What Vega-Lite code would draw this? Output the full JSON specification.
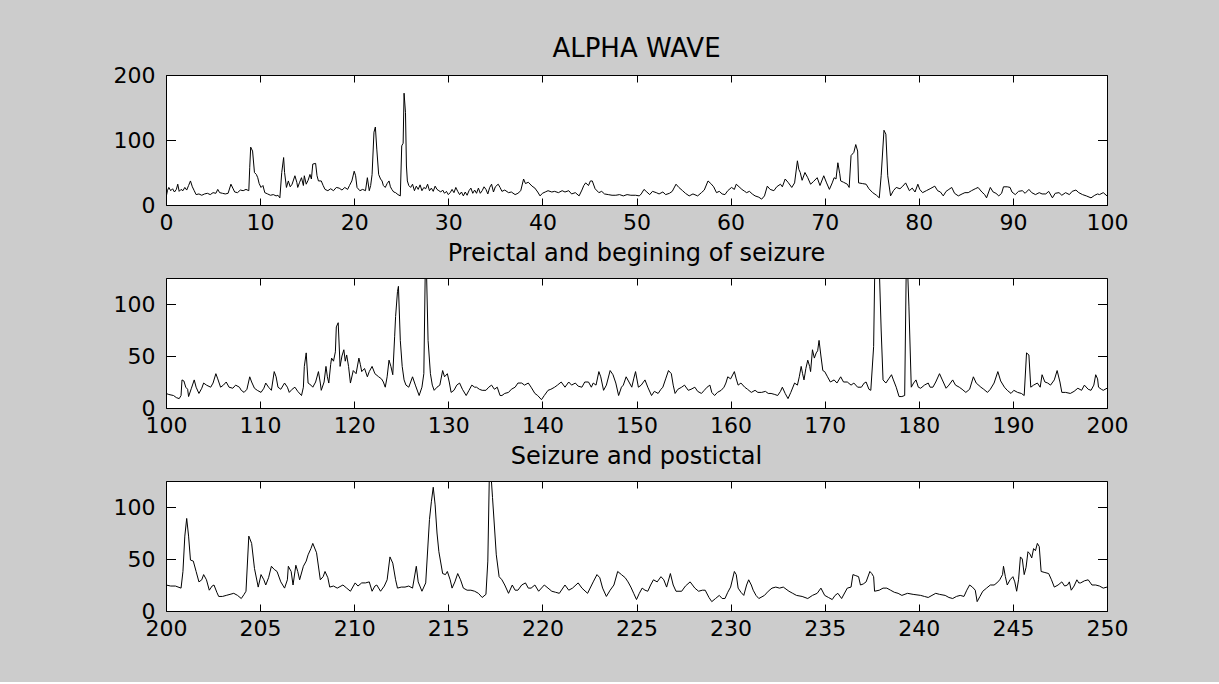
{
"$schema": "https://vega.github.io/schema/vega-lite/v6.json",
"autosize": {"type": "pad"},
"padding": {"left": 112, "top": 35, "right": 94, "bottom": 41},
"background": "#cccccc",
"spacing": 73,
"bounds": "flush",
"config": {
 "view": {"fill": "white", "stroke": "black", "strokeWidth": 1},
 "axis": {"domain": false, "grid": false, "labelFont": "DejaVu Sans", "labelFontSize": 22, "labelColor": "black", "tickColor": "black", "tickWidth": 1, "title": null, "labelFlush": false, "labelOverlap": false},
 "axisX": {"tickSize": -7, "labelPadding": 14.6},
 "axisY": {"tickSize": -9.5, "labelPadding": 20.5},
 "title": {"font": "DejaVu Sans", "fontSize": 24, "fontWeight": "normal", "color": "black", "baseline": "alphabetic", "offset": 12, "anchor": "middle"}
},
"datasets": {
"a": [
{"t":0.0,"v":11},{"t":0.15,"v":22},{"t":0.3,"v":27},{"t":0.5,"v":22},{"t":0.7,"v":25},{"t":0.9,"v":20},{"t":1.1,"v":24},{"t":1.25,"v":32},{"t":1.4,"v":21},{"t":1.6,"v":24},{"t":1.8,"v":22},{"t":2.0,"v":27},{"t":2.2,"v":23},{"t":2.4,"v":30},{"t":2.6,"v":37},{"t":2.8,"v":28},{"t":3.0,"v":22},{"t":3.2,"v":16},{"t":3.5,"v":17},{"t":3.8,"v":15},{"t":4.1,"v":17},{"t":4.4,"v":18},{"t":4.7,"v":16},{"t":5.0,"v":19},{"t":5.3,"v":18},{"t":5.5,"v":24},{"t":5.7,"v":19},{"t":6.0,"v":18},{"t":6.3,"v":17},{"t":6.6,"v":18},{"t":6.9,"v":32},{"t":7.1,"v":26},{"t":7.3,"v":20},{"t":7.6,"v":19},{"t":7.9,"v":23},{"t":8.2,"v":22},{"t":8.5,"v":24},{"t":8.8,"v":22},{"t":8.9,"v":58},{"t":9.0,"v":89},{"t":9.2,"v":83},{"t":9.4,"v":50},{"t":9.6,"v":47},{"t":9.75,"v":42},{"t":9.9,"v":33},{"t":10.1,"v":27},{"t":10.3,"v":30},{"t":10.5,"v":19},{"t":10.8,"v":17},{"t":11.1,"v":15},{"t":11.4,"v":16},{"t":11.7,"v":14},{"t":11.9,"v":15},{"t":12.1,"v":11},{"t":12.3,"v":50},{"t":12.5,"v":73},{"t":12.6,"v":50},{"t":12.8,"v":27},{"t":13.0,"v":37},{"t":13.2,"v":28},{"t":13.4,"v":32},{"t":13.7,"v":45},{"t":13.9,"v":35},{"t":14.0,"v":27},{"t":14.2,"v":35},{"t":14.4,"v":42},{"t":14.6,"v":30},{"t":14.7,"v":45},{"t":14.9,"v":32},{"t":15.1,"v":38},{"t":15.3,"v":47},{"t":15.45,"v":40},{"t":15.6,"v":63},{"t":15.9,"v":64},{"t":16.05,"v":45},{"t":16.2,"v":37},{"t":16.5,"v":37},{"t":16.7,"v":30},{"t":16.9,"v":24},{"t":17.2,"v":22},{"t":17.5,"v":25},{"t":17.8,"v":22},{"t":18.1,"v":27},{"t":18.4,"v":26},{"t":18.7,"v":23},{"t":19.0,"v":27},{"t":19.3,"v":24},{"t":19.5,"v":30},{"t":19.75,"v":37},{"t":20.0,"v":52},{"t":20.15,"v":45},{"t":20.3,"v":27},{"t":20.6,"v":22},{"t":20.9,"v":24},{"t":21.2,"v":22},{"t":21.4,"v":42},{"t":21.6,"v":22},{"t":21.75,"v":30},{"t":21.9,"v":47},{"t":22.1,"v":112},{"t":22.25,"v":120},{"t":22.4,"v":86},{"t":22.6,"v":47},{"t":22.8,"v":40},{"t":22.96,"v":37},{"t":23.1,"v":30},{"t":23.3,"v":27},{"t":23.5,"v":33},{"t":23.7,"v":37},{"t":23.85,"v":28},{"t":24.0,"v":24},{"t":24.2,"v":20},{"t":24.4,"v":19},{"t":24.65,"v":16},{"t":24.9,"v":14},{"t":25.05,"v":91},{"t":25.2,"v":95},{"t":25.3,"v":172},{"t":25.45,"v":142},{"t":25.55,"v":60},{"t":25.65,"v":37},{"t":25.8,"v":30},{"t":26.0,"v":27},{"t":26.2,"v":32},{"t":26.4,"v":22},{"t":26.6,"v":29},{"t":26.8,"v":24},{"t":27.0,"v":31},{"t":27.2,"v":22},{"t":27.4,"v":27},{"t":27.6,"v":25},{"t":27.8,"v":32},{"t":28.0,"v":22},{"t":28.2,"v":26},{"t":28.4,"v":21},{"t":28.6,"v":29},{"t":28.8,"v":24},{"t":29.0,"v":22},{"t":29.2,"v":20},{"t":29.4,"v":23},{"t":29.6,"v":18},{"t":29.8,"v":21},{"t":30.0,"v":16},{"t":30.2,"v":19},{"t":30.4,"v":24},{"t":30.6,"v":19},{"t":30.8,"v":27},{"t":31.0,"v":21},{"t":31.2,"v":16},{"t":31.4,"v":20},{"t":31.6,"v":14},{"t":31.8,"v":20},{"t":32.0,"v":15},{"t":32.2,"v":22},{"t":32.4,"v":26},{"t":32.6,"v":18},{"t":32.8,"v":23},{"t":33.0,"v":18},{"t":33.2,"v":26},{"t":33.4,"v":18},{"t":33.6,"v":22},{"t":33.8,"v":28},{"t":34.0,"v":24},{"t":34.2,"v":17},{"t":34.4,"v":27},{"t":34.6,"v":32},{"t":34.8,"v":20},{"t":35.0,"v":28},{"t":35.3,"v":32},{"t":35.5,"v":27},{"t":35.7,"v":21},{"t":36.0,"v":23},{"t":36.4,"v":19},{"t":36.7,"v":20},{"t":37.1,"v":16},{"t":37.4,"v":18},{"t":37.7,"v":22},{"t":38.0,"v":40},{"t":38.2,"v":33},{"t":38.5,"v":35},{"t":38.9,"v":29},{"t":39.2,"v":26},{"t":39.5,"v":20},{"t":39.75,"v":14},{"t":40.0,"v":18},{"t":40.3,"v":20},{"t":40.6,"v":22},{"t":41.0,"v":20},{"t":41.3,"v":21},{"t":41.7,"v":19},{"t":42.1,"v":22},{"t":42.4,"v":20},{"t":42.8,"v":22},{"t":43.1,"v":17},{"t":43.5,"v":19},{"t":43.9,"v":14},{"t":44.2,"v":23},{"t":44.4,"v":30},{"t":44.6,"v":34},{"t":44.9,"v":30},{"t":45.1,"v":37},{"t":45.3,"v":37},{"t":45.6,"v":25},{"t":46.0,"v":19},{"t":46.3,"v":21},{"t":46.6,"v":17},{"t":47.0,"v":16},{"t":47.4,"v":15},{"t":47.8,"v":15},{"t":48.2,"v":16},{"t":48.6,"v":14},{"t":49.0,"v":16},{"t":49.4,"v":15},{"t":49.9,"v":15},{"t":50.3,"v":14},{"t":50.5,"v":17},{"t":50.8,"v":24},{"t":51.1,"v":20},{"t":51.4,"v":16},{"t":51.7,"v":21},{"t":52.1,"v":19},{"t":52.4,"v":17},{"t":52.8,"v":20},{"t":53.1,"v":16},{"t":53.5,"v":18},{"t":53.8,"v":21},{"t":54.2,"v":32},{"t":54.5,"v":27},{"t":54.9,"v":22},{"t":55.2,"v":18},{"t":55.6,"v":14},{"t":56.0,"v":17},{"t":56.5,"v":14},{"t":56.9,"v":19},{"t":57.2,"v":23},{"t":57.6,"v":37},{"t":57.9,"v":33},{"t":58.2,"v":28},{"t":58.5,"v":19},{"t":58.8,"v":21},{"t":59.1,"v":17},{"t":59.4,"v":16},{"t":59.7,"v":22},{"t":60.1,"v":27},{"t":60.4,"v":24},{"t":60.6,"v":32},{"t":60.9,"v":28},{"t":61.2,"v":24},{"t":61.5,"v":21},{"t":61.7,"v":19},{"t":62.0,"v":21},{"t":62.3,"v":17},{"t":62.6,"v":14},{"t":63.0,"v":12},{"t":63.3,"v":9},{"t":63.6,"v":14},{"t":63.9,"v":29},{"t":64.2,"v":24},{"t":64.6,"v":22},{"t":64.9,"v":28},{"t":65.3,"v":32},{"t":65.5,"v":28},{"t":65.8,"v":40},{"t":66.1,"v":35},{"t":66.5,"v":27},{"t":66.8,"v":34},{"t":67.1,"v":68},{"t":67.25,"v":55},{"t":67.4,"v":50},{"t":67.6,"v":38},{"t":67.9,"v":50},{"t":68.2,"v":42},{"t":68.5,"v":32},{"t":68.8,"v":36},{"t":69.2,"v":42},{"t":69.5,"v":30},{"t":69.9,"v":45},{"t":70.2,"v":34},{"t":70.5,"v":24},{"t":70.8,"v":34},{"t":71.0,"v":42},{"t":71.2,"v":40},{"t":71.4,"v":65},{"t":71.6,"v":48},{"t":71.7,"v":37},{"t":72.0,"v":35},{"t":72.4,"v":32},{"t":72.6,"v":27},{"t":72.8,"v":76},{"t":73.1,"v":81},{"t":73.3,"v":93},{"t":73.5,"v":83},{"t":73.6,"v":34},{"t":74.0,"v":33},{"t":74.4,"v":32},{"t":74.7,"v":25},{"t":75.1,"v":19},{"t":75.5,"v":15},{"t":75.8,"v":11},{"t":76.0,"v":45},{"t":76.3,"v":115},{"t":76.5,"v":109},{"t":76.7,"v":45},{"t":77.0,"v":14},{"t":77.3,"v":22},{"t":77.6,"v":27},{"t":78.0,"v":25},{"t":78.3,"v":29},{"t":78.6,"v":34},{"t":79.0,"v":22},{"t":79.3,"v":26},{"t":79.6,"v":20},{"t":79.9,"v":32},{"t":80.1,"v":24},{"t":80.4,"v":19},{"t":80.8,"v":22},{"t":81.2,"v":25},{"t":81.7,"v":29},{"t":82.0,"v":22},{"t":82.3,"v":20},{"t":82.6,"v":14},{"t":82.9,"v":21},{"t":83.2,"v":24},{"t":83.5,"v":27},{"t":83.8,"v":18},{"t":84.2,"v":14},{"t":84.6,"v":17},{"t":84.9,"v":19},{"t":85.25,"v":19},{"t":85.6,"v":22},{"t":86.0,"v":25},{"t":86.3,"v":27},{"t":86.7,"v":20},{"t":87.0,"v":16},{"t":87.2,"v":11},{"t":87.6,"v":27},{"t":87.9,"v":20},{"t":88.2,"v":18},{"t":88.5,"v":14},{"t":88.8,"v":18},{"t":89.0,"v":28},{"t":89.4,"v":28},{"t":89.7,"v":27},{"t":89.9,"v":20},{"t":90.25,"v":16},{"t":90.6,"v":21},{"t":91.0,"v":22},{"t":91.3,"v":18},{"t":91.7,"v":24},{"t":92.0,"v":19},{"t":92.4,"v":16},{"t":92.8,"v":19},{"t":93.1,"v":17},{"t":93.5,"v":17},{"t":93.8,"v":21},{"t":94.2,"v":11},{"t":94.5,"v":18},{"t":94.9,"v":19},{"t":95.2,"v":15},{"t":95.6,"v":19},{"t":96.0,"v":16},{"t":96.3,"v":21},{"t":96.7,"v":23},{"t":97.0,"v":19},{"t":97.4,"v":16},{"t":97.8,"v":14},{"t":98.3,"v":11},{"t":98.7,"v":15},{"t":99.0,"v":17},{"t":99.2,"v":16},{"t":99.6,"v":19},{"t":100.0,"v":14}
],
"b": [
{"t":100.0,"v":14},{"t":100.3,"v":13},{"t":100.8,"v":12},{"t":101.1,"v":10},{"t":101.4,"v":9},{"t":101.6,"v":12},{"t":101.7,"v":27},{"t":101.9,"v":26},{"t":102.1,"v":20},{"t":102.3,"v":18},{"t":102.4,"v":11},{"t":102.7,"v":19},{"t":103.0,"v":27},{"t":103.2,"v":20},{"t":103.5,"v":14},{"t":103.8,"v":19},{"t":104.0,"v":24},{"t":104.3,"v":22},{"t":104.75,"v":20},{"t":105.0,"v":24},{"t":105.3,"v":33},{"t":105.5,"v":28},{"t":105.8,"v":20},{"t":106.1,"v":22},{"t":106.4,"v":25},{"t":106.7,"v":20},{"t":107.1,"v":19},{"t":107.4,"v":22},{"t":107.8,"v":20},{"t":108.0,"v":17},{"t":108.3,"v":15},{"t":108.6,"v":18},{"t":108.9,"v":30},{"t":109.1,"v":25},{"t":109.4,"v":19},{"t":109.7,"v":17},{"t":110.1,"v":15},{"t":110.4,"v":19},{"t":110.6,"v":24},{"t":110.9,"v":20},{"t":111.2,"v":17},{"t":111.5,"v":35},{"t":111.7,"v":30},{"t":111.9,"v":20},{"t":112.2,"v":18},{"t":112.6,"v":24},{"t":112.9,"v":20},{"t":113.1,"v":15},{"t":113.4,"v":18},{"t":113.7,"v":20},{"t":114.0,"v":16},{"t":114.4,"v":12},{"t":114.6,"v":20},{"t":114.7,"v":40},{"t":114.9,"v":53},{"t":115.1,"v":24},{"t":115.4,"v":22},{"t":115.6,"v":20},{"t":115.9,"v":25},{"t":116.2,"v":35},{"t":116.4,"v":24},{"t":116.5,"v":17},{"t":116.8,"v":25},{"t":117.0,"v":40},{"t":117.15,"v":30},{"t":117.3,"v":24},{"t":117.5,"v":42},{"t":117.6,"v":48},{"t":117.8,"v":45},{"t":118.0,"v":54},{"t":118.1,"v":78},{"t":118.3,"v":82},{"t":118.5,"v":40},{"t":118.7,"v":50},{"t":118.9,"v":56},{"t":119.05,"v":45},{"t":119.2,"v":51},{"t":119.4,"v":40},{"t":119.6,"v":24},{"t":119.9,"v":36},{"t":120.2,"v":33},{"t":120.5,"v":48},{"t":120.65,"v":42},{"t":120.8,"v":35},{"t":121.1,"v":38},{"t":121.4,"v":30},{"t":121.6,"v":35},{"t":121.9,"v":40},{"t":122.2,"v":33},{"t":122.6,"v":30},{"t":122.9,"v":28},{"t":123.1,"v":25},{"t":123.3,"v":20},{"t":123.5,"v":30},{"t":123.7,"v":46},{"t":123.9,"v":40},{"t":124.1,"v":32},{"t":124.3,"v":69},{"t":124.4,"v":88},{"t":124.6,"v":112},{"t":124.7,"v":117},{"t":124.9,"v":65},{"t":125.1,"v":40},{"t":125.3,"v":27},{"t":125.5,"v":22},{"t":125.8,"v":20},{"t":126.0,"v":25},{"t":126.2,"v":30},{"t":126.5,"v":22},{"t":126.9,"v":12},{"t":127.2,"v":20},{"t":127.4,"v":33},{"t":127.6,"v":165},{"t":127.85,"v":65},{"t":128.1,"v":33},{"t":128.3,"v":22},{"t":128.5,"v":17},{"t":128.8,"v":20},{"t":129.1,"v":22},{"t":129.4,"v":36},{"t":129.6,"v":30},{"t":129.9,"v":33},{"t":130.1,"v":25},{"t":130.3,"v":15},{"t":130.6,"v":17},{"t":130.9,"v":22},{"t":131.2,"v":24},{"t":131.5,"v":18},{"t":131.9,"v":12},{"t":132.2,"v":17},{"t":132.5,"v":22},{"t":132.8,"v":20},{"t":133.0,"v":20},{"t":133.3,"v":18},{"t":133.6,"v":17},{"t":134.0,"v":17},{"t":134.3,"v":20},{"t":134.6,"v":22},{"t":134.9,"v":18},{"t":135.2,"v":20},{"t":135.5,"v":12},{"t":135.7,"v":12},{"t":136.0,"v":14},{"t":136.4,"v":15},{"t":136.7,"v":18},{"t":137.1,"v":20},{"t":137.4,"v":24},{"t":137.8,"v":24},{"t":138.1,"v":22},{"t":138.5,"v":24},{"t":138.8,"v":20},{"t":139.2,"v":14},{"t":139.5,"v":12},{"t":139.9,"v":8},{"t":140.2,"v":12},{"t":140.6,"v":17},{"t":140.9,"v":18},{"t":141.3,"v":20},{"t":141.6,"v":22},{"t":142.0,"v":25},{"t":142.4,"v":20},{"t":142.8,"v":25},{"t":143.1,"v":22},{"t":143.5,"v":24},{"t":143.8,"v":21},{"t":144.2,"v":20},{"t":144.5,"v":25},{"t":144.9,"v":25},{"t":145.2,"v":20},{"t":145.4,"v":24},{"t":145.7,"v":22},{"t":146.0,"v":35},{"t":146.2,"v":30},{"t":146.5,"v":17},{"t":146.8,"v":22},{"t":147.2,"v":36},{"t":147.5,"v":32},{"t":147.8,"v":24},{"t":148.1,"v":12},{"t":148.4,"v":20},{"t":148.6,"v":22},{"t":148.9,"v":30},{"t":149.2,"v":25},{"t":149.5,"v":20},{"t":149.7,"v":28},{"t":149.9,"v":35},{"t":150.2,"v":20},{"t":150.5,"v":22},{"t":150.9,"v":27},{"t":151.2,"v":20},{"t":151.6,"v":12},{"t":151.9,"v":16},{"t":152.3,"v":14},{"t":152.6,"v":18},{"t":152.8,"v":20},{"t":153.1,"v":28},{"t":153.4,"v":36},{"t":153.7,"v":33},{"t":153.9,"v":22},{"t":154.1,"v":14},{"t":154.4,"v":18},{"t":154.8,"v":20},{"t":155.1,"v":22},{"t":155.5,"v":17},{"t":155.8,"v":18},{"t":156.2,"v":20},{"t":156.5,"v":16},{"t":156.9,"v":14},{"t":157.2,"v":17},{"t":157.5,"v":20},{"t":157.8,"v":22},{"t":158.0,"v":15},{"t":158.3,"v":12},{"t":158.6,"v":15},{"t":159.0,"v":17},{"t":159.3,"v":20},{"t":159.5,"v":24},{"t":159.7,"v":30},{"t":160.0,"v":28},{"t":160.4,"v":35},{"t":160.6,"v":28},{"t":160.8,"v":22},{"t":161.1,"v":24},{"t":161.5,"v":20},{"t":161.8,"v":18},{"t":162.2,"v":15},{"t":162.6,"v":17},{"t":162.9,"v":15},{"t":163.3,"v":15},{"t":163.7,"v":16},{"t":164.0,"v":14},{"t":164.3,"v":14},{"t":164.7,"v":13},{"t":165.0,"v":12},{"t":165.3,"v":16},{"t":165.5,"v":20},{"t":165.8,"v":14},{"t":166.1,"v":9},{"t":166.4,"v":15},{"t":166.8,"v":24},{"t":167.1,"v":22},{"t":167.3,"v":30},{"t":167.5,"v":40},{"t":167.65,"v":33},{"t":167.8,"v":27},{"t":168.0,"v":38},{"t":168.2,"v":46},{"t":168.4,"v":40},{"t":168.5,"v":35},{"t":168.7,"v":56},{"t":168.9,"v":48},{"t":169.1,"v":53},{"t":169.25,"v":55},{"t":169.4,"v":65},{"t":169.6,"v":50},{"t":169.8,"v":36},{"t":170.0,"v":35},{"t":170.3,"v":30},{"t":170.6,"v":25},{"t":171.0,"v":27},{"t":171.3,"v":24},{"t":171.7,"v":30},{"t":172.0,"v":25},{"t":172.4,"v":25},{"t":172.8,"v":22},{"t":173.1,"v":24},{"t":173.5,"v":20},{"t":173.9,"v":20},{"t":174.2,"v":24},{"t":174.4,"v":25},{"t":174.7,"v":18},{"t":174.9,"v":17},{"t":175.2,"v":59},{"t":175.35,"v":150},{"t":175.75,"v":150},{"t":176.0,"v":75},{"t":176.2,"v":27},{"t":176.5,"v":24},{"t":176.8,"v":28},{"t":177.1,"v":32},{"t":177.3,"v":27},{"t":177.6,"v":20},{"t":177.9,"v":11},{"t":178.2,"v":11},{"t":178.5,"v":12},{"t":178.7,"v":160},{"t":178.95,"v":98},{"t":179.2,"v":20},{"t":179.45,"v":24},{"t":179.7,"v":27},{"t":179.95,"v":20},{"t":180.2,"v":19},{"t":180.6,"v":22},{"t":181.0,"v":24},{"t":181.2,"v":20},{"t":181.5,"v":20},{"t":181.8,"v":25},{"t":182.2,"v":33},{"t":182.5,"v":27},{"t":182.9,"v":19},{"t":183.2,"v":22},{"t":183.6,"v":27},{"t":183.9,"v":22},{"t":184.3,"v":20},{"t":184.6,"v":18},{"t":185.0,"v":15},{"t":185.4,"v":18},{"t":185.8,"v":30},{"t":186.1,"v":24},{"t":186.6,"v":20},{"t":186.9,"v":18},{"t":187.3,"v":15},{"t":187.6,"v":18},{"t":188.0,"v":24},{"t":188.4,"v":35},{"t":188.7,"v":26},{"t":189.1,"v":20},{"t":189.4,"v":17},{"t":189.8,"v":14},{"t":190.1,"v":17},{"t":190.5,"v":15},{"t":190.9,"v":14},{"t":191.2,"v":12},{"t":191.45,"v":53},{"t":191.7,"v":51},{"t":191.9,"v":20},{"t":192.2,"v":22},{"t":192.6,"v":24},{"t":192.9,"v":20},{"t":193.1,"v":32},{"t":193.4,"v":25},{"t":193.7,"v":24},{"t":194.0,"v":22},{"t":194.4,"v":27},{"t":194.7,"v":36},{"t":195.0,"v":25},{"t":195.2,"v":15},{"t":195.6,"v":15},{"t":196.1,"v":14},{"t":196.5,"v":16},{"t":196.9,"v":19},{"t":197.3,"v":17},{"t":197.6,"v":22},{"t":198.0,"v":18},{"t":198.3,"v":17},{"t":198.6,"v":22},{"t":198.8,"v":32},{"t":199.0,"v":28},{"t":199.1,"v":20},{"t":199.4,"v":18},{"t":199.6,"v":17},{"t":200.0,"v":19}
],
"c": [
{"t":200.0,"v":25},{"t":200.25,"v":24},{"t":200.5,"v":24},{"t":200.8,"v":22},{"t":200.9,"v":38},{"t":201.0,"v":72},{"t":201.1,"v":89},{"t":201.2,"v":72},{"t":201.3,"v":49},{"t":201.45,"v":48},{"t":201.6,"v":38},{"t":201.75,"v":28},{"t":201.9,"v":30},{"t":202.0,"v":35},{"t":202.15,"v":30},{"t":202.3,"v":20},{"t":202.45,"v":24},{"t":202.55,"v":25},{"t":202.7,"v":18},{"t":202.8,"v":14},{"t":203.0,"v":14},{"t":203.2,"v":15},{"t":203.4,"v":16},{"t":203.6,"v":17},{"t":203.8,"v":15},{"t":204.0,"v":12},{"t":204.15,"v":16},{"t":204.25,"v":19},{"t":204.4,"v":72},{"t":204.55,"v":65},{"t":204.7,"v":41},{"t":204.9,"v":23},{"t":205.05,"v":35},{"t":205.2,"v":30},{"t":205.3,"v":25},{"t":205.45,"v":32},{"t":205.6,"v":43},{"t":205.75,"v":40},{"t":205.9,"v":38},{"t":206.1,"v":28},{"t":206.3,"v":22},{"t":206.45,"v":30},{"t":206.5,"v":43},{"t":206.65,"v":38},{"t":206.75,"v":25},{"t":206.9,"v":44},{"t":207.0,"v":38},{"t":207.1,"v":30},{"t":207.3,"v":43},{"t":207.45,"v":48},{"t":207.55,"v":54},{"t":207.7,"v":60},{"t":207.8,"v":65},{"t":208.0,"v":56},{"t":208.2,"v":30},{"t":208.35,"v":33},{"t":208.45,"v":38},{"t":208.6,"v":32},{"t":208.7,"v":23},{"t":208.9,"v":24},{"t":209.1,"v":22},{"t":209.3,"v":24},{"t":209.4,"v":25},{"t":209.6,"v":22},{"t":209.8,"v":19},{"t":210.05,"v":27},{"t":210.2,"v":24},{"t":210.4,"v":27},{"t":210.6,"v":27},{"t":210.8,"v":28},{"t":210.95,"v":19},{"t":211.1,"v":24},{"t":211.2,"v":25},{"t":211.4,"v":19},{"t":211.6,"v":24},{"t":211.75,"v":30},{"t":211.9,"v":52},{"t":212.05,"v":46},{"t":212.2,"v":30},{"t":212.3,"v":22},{"t":212.5,"v":23},{"t":212.7,"v":23},{"t":212.9,"v":24},{"t":213.1,"v":22},{"t":213.3,"v":43},{"t":213.4,"v":28},{"t":213.6,"v":19},{"t":213.8,"v":27},{"t":214.0,"v":88},{"t":214.1,"v":105},{"t":214.2,"v":119},{"t":214.3,"v":102},{"t":214.4,"v":75},{"t":214.5,"v":57},{"t":214.7,"v":36},{"t":214.85,"v":35},{"t":214.95,"v":38},{"t":215.1,"v":30},{"t":215.2,"v":22},{"t":215.35,"v":28},{"t":215.5,"v":36},{"t":215.65,"v":30},{"t":215.8,"v":22},{"t":216.0,"v":20},{"t":216.2,"v":20},{"t":216.4,"v":19},{"t":216.6,"v":17},{"t":216.8,"v":13},{"t":217.0,"v":16},{"t":217.1,"v":48},{"t":217.2,"v":150},{"t":217.35,"v":109},{"t":217.55,"v":54},{"t":217.7,"v":33},{"t":217.85,"v":30},{"t":218.0,"v":25},{"t":218.2,"v":17},{"t":218.4,"v":25},{"t":218.55,"v":20},{"t":218.7,"v":20},{"t":218.9,"v":25},{"t":219.1,"v":27},{"t":219.25,"v":22},{"t":219.4,"v":22},{"t":219.6,"v":25},{"t":219.8,"v":19},{"t":220.1,"v":25},{"t":220.3,"v":22},{"t":220.5,"v":19},{"t":220.7,"v":18},{"t":220.9,"v":17},{"t":221.2,"v":25},{"t":221.4,"v":20},{"t":221.6,"v":22},{"t":221.9,"v":27},{"t":222.1,"v":22},{"t":222.4,"v":17},{"t":222.7,"v":28},{"t":222.9,"v":35},{"t":223.05,"v":32},{"t":223.2,"v":22},{"t":223.4,"v":14},{"t":223.6,"v":20},{"t":223.8,"v":25},{"t":224.0,"v":38},{"t":224.2,"v":35},{"t":224.4,"v":32},{"t":224.55,"v":28},{"t":224.7,"v":23},{"t":224.85,"v":17},{"t":225.0,"v":11},{"t":225.15,"v":17},{"t":225.3,"v":22},{"t":225.45,"v":20},{"t":225.6,"v":19},{"t":225.75,"v":25},{"t":225.9,"v":30},{"t":226.1,"v":28},{"t":226.3,"v":33},{"t":226.45,"v":30},{"t":226.6,"v":23},{"t":226.8,"v":36},{"t":226.95,"v":25},{"t":227.1,"v":19},{"t":227.4,"v":19},{"t":227.6,"v":24},{"t":227.85,"v":28},{"t":228.1,"v":22},{"t":228.3,"v":19},{"t":228.5,"v":20},{"t":228.65,"v":20},{"t":228.85,"v":13},{"t":229.0,"v":9},{"t":229.2,"v":12},{"t":229.4,"v":15},{"t":229.55,"v":12},{"t":229.7,"v":12},{"t":229.85,"v":18},{"t":230.0,"v":23},{"t":230.2,"v":38},{"t":230.3,"v":35},{"t":230.4,"v":22},{"t":230.55,"v":18},{"t":230.7,"v":15},{"t":230.85,"v":25},{"t":230.96,"v":30},{"t":231.1,"v":25},{"t":231.2,"v":20},{"t":231.35,"v":15},{"t":231.5,"v":12},{"t":231.8,"v":15},{"t":232.0,"v":19},{"t":232.2,"v":22},{"t":232.4,"v":23},{"t":232.6,"v":22},{"t":232.8,"v":23},{"t":233.1,"v":19},{"t":233.3,"v":17},{"t":233.5,"v":15},{"t":233.8,"v":14},{"t":234.1,"v":12},{"t":234.35,"v":15},{"t":234.6,"v":17},{"t":234.8,"v":22},{"t":235.0,"v":15},{"t":235.2,"v":13},{"t":235.4,"v":11},{"t":235.55,"v":15},{"t":235.7,"v":17},{"t":235.9,"v":12},{"t":236.2,"v":22},{"t":236.4,"v":23},{"t":236.5,"v":35},{"t":236.65,"v":34},{"t":236.8,"v":33},{"t":236.9,"v":25},{"t":237.05,"v":26},{"t":237.2,"v":28},{"t":237.4,"v":38},{"t":237.5,"v":36},{"t":237.6,"v":33},{"t":237.65,"v":19},{"t":237.9,"v":20},{"t":238.1,"v":22},{"t":238.3,"v":22},{"t":238.5,"v":20},{"t":238.7,"v":18},{"t":238.9,"v":17},{"t":239.1,"v":15},{"t":239.4,"v":17},{"t":239.7,"v":16},{"t":240.1,"v":15},{"t":240.3,"v":14},{"t":240.5,"v":13},{"t":240.7,"v":15},{"t":240.9,"v":17},{"t":241.1,"v":16},{"t":241.4,"v":15},{"t":241.6,"v":13},{"t":241.8,"v":12},{"t":242.0,"v":14},{"t":242.2,"v":15},{"t":242.4,"v":14},{"t":242.55,"v":20},{"t":242.7,"v":25},{"t":242.85,"v":23},{"t":243.0,"v":20},{"t":243.1,"v":9},{"t":243.25,"v":14},{"t":243.4,"v":19},{"t":243.6,"v":22},{"t":243.8,"v":25},{"t":244.0,"v":25},{"t":244.15,"v":27},{"t":244.3,"v":30},{"t":244.45,"v":35},{"t":244.5,"v":43},{"t":244.6,"v":33},{"t":244.7,"v":25},{"t":244.85,"v":30},{"t":245.0,"v":33},{"t":245.1,"v":28},{"t":245.2,"v":19},{"t":245.3,"v":30},{"t":245.4,"v":52},{"t":245.5,"v":50},{"t":245.6,"v":35},{"t":245.7,"v":42},{"t":245.8,"v":57},{"t":245.9,"v":55},{"t":246.0,"v":51},{"t":246.1,"v":60},{"t":246.2,"v":58},{"t":246.3,"v":65},{"t":246.4,"v":62},{"t":246.5,"v":38},{"t":246.7,"v":37},{"t":246.9,"v":36},{"t":247.05,"v":30},{"t":247.2,"v":23},{"t":247.4,"v":25},{"t":247.6,"v":28},{"t":247.75,"v":24},{"t":247.9,"v":25},{"t":248.0,"v":28},{"t":248.1,"v":20},{"t":248.25,"v":24},{"t":248.4,"v":30},{"t":248.5,"v":27},{"t":248.6,"v":27},{"t":248.8,"v":29},{"t":249.0,"v":30},{"t":249.2,"v":25},{"t":249.4,"v":25},{"t":249.6,"v":24},{"t":249.8,"v":22},{"t":250.0,"v":23}
]
},
"vconcat": [
{
 "title": {"text": "ALPHA WAVE", "offset": 2, "fontSize": 26},
 "width": 941, "height": 130,
 "data": {"name": "a"},
 "layer": [
  {"mark": {"type": "line", "color": "black", "strokeWidth": 1, "clip": true},
   "encoding": {
    "x": {"field": "t", "type": "quantitative", "scale": {"domain": [0, 100], "nice": false, "zero": false}, "axis": {"orient": "bottom", "values": [0,10,20,30,40,50,60,70,80,90,100]}},
    "y": {"field": "v", "type": "quantitative", "scale": {"domain": [0, 200], "nice": false}, "axis": {"orient": "left", "values": [0,100,200]}}
   }},
  {"mark": {"type": "line", "strokeOpacity": 0, "clip": true},
   "encoding": {
    "x": {"field": "t", "type": "quantitative", "axis": {"orient": "top", "labels": false, "values": [0,10,20,30,40,50,60,70,80,90,100]}},
    "y": {"field": "v", "type": "quantitative", "axis": {"orient": "right", "labels": false, "values": [0,100,200]}}
   }}
 ],
 "resolve": {"axis": {"x": "independent", "y": "independent"}}
},
{
 "title": {"text": "Preictal and begining of seizure"},
 "width": 941, "height": 130,
 "data": {"name": "b"},
 "layer": [
  {"mark": {"type": "line", "color": "black", "strokeWidth": 1, "clip": true},
   "encoding": {
    "x": {"field": "t", "type": "quantitative", "scale": {"domain": [100, 200], "nice": false, "zero": false}, "axis": {"orient": "bottom", "values": [100,110,120,130,140,150,160,170,180,190,200]}},
    "y": {"field": "v", "type": "quantitative", "scale": {"domain": [0, 125], "nice": false}, "axis": {"orient": "left", "values": [0,50,100]}}
   }},
  {"mark": {"type": "line", "strokeOpacity": 0, "clip": true},
   "encoding": {
    "x": {"field": "t", "type": "quantitative", "axis": {"orient": "top", "labels": false, "values": [100,110,120,130,140,150,160,170,180,190,200]}},
    "y": {"field": "v", "type": "quantitative", "axis": {"orient": "right", "labels": false, "values": [0,50,100]}}
   }}
 ],
 "resolve": {"axis": {"x": "independent", "y": "independent"}}
},
{
 "title": {"text": "Seizure and postictal"},
 "width": 941, "height": 130,
 "data": {"name": "c"},
 "layer": [
  {"mark": {"type": "line", "color": "black", "strokeWidth": 1, "clip": true},
   "encoding": {
    "x": {"field": "t", "type": "quantitative", "scale": {"domain": [200, 250], "nice": false, "zero": false}, "axis": {"orient": "bottom", "values": [200,205,210,215,220,225,230,235,240,245,250]}},
    "y": {"field": "v", "type": "quantitative", "scale": {"domain": [0, 125], "nice": false}, "axis": {"orient": "left", "values": [0,50,100]}}
   }},
  {"mark": {"type": "line", "strokeOpacity": 0, "clip": true},
   "encoding": {
    "x": {"field": "t", "type": "quantitative", "axis": {"orient": "top", "labels": false, "values": [200,205,210,215,220,225,230,235,240,245,250]}},
    "y": {"field": "v", "type": "quantitative", "axis": {"orient": "right", "labels": false, "values": [0,50,100]}}
   }}
 ],
 "resolve": {"axis": {"x": "independent", "y": "independent"}}
}
]
}
